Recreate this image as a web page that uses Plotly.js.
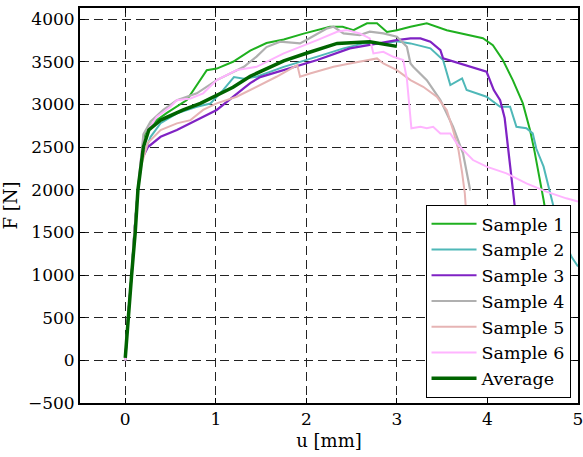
<!DOCTYPE html>
<html>
<head>
<meta charset="utf-8">
<script src="https://cdn.plot.ly/plotly-3.0.1.min.js"></script>
<style>
html,body{margin:0;padding:0;background:#fff;}
#chart{width:583px;height:457px;}
</style>
</head>
<body>
<div id="chart"></div>
<script>
var seriesNames = ["Sample 1","Sample 2","Sample 3","Sample 4","Sample 5","Sample 6","Average"];

var s1_u = [0,0.03,0.07,0.1,0.14,0.18,0.22,0.3,0.46,0.68,0.9,1.01,1.19,1.38,1.56,1.75,1.97,2.26,2.4,2.52,2.67,2.78,2.89,3.0,3.15,3.33,3.55,3.81,3.95,4.06,4.17,4.28,4.39,4.47,4.52,4.62,4.68,4.75];
var s1_F = [0,500,1000,1500,2000,2400,2650,2780,2900,3050,3400,3420,3500,3630,3720,3760,3830,3910,3910,3870,3950,3950,3850,3870,3910,3950,3870,3810,3775,3695,3520,3285,3015,2700,2450,1880,1500,1000];

var s2_u = [0,0.03,0.07,0.1,0.14,0.18,0.28,0.39,0.57,0.79,0.94,1.08,1.2,1.31,1.45,1.75,2.12,2.41,2.63,2.85,3.0,3.15,3.37,3.51,3.59,3.72,3.77,3.99,4.14,4.25,4.32,4.43,4.5,4.54,4.62,4.73,4.85,4.93,5.0];
var s2_F = [0,500,1000,1500,2000,2350,2620,2780,2895,2972,3010,3168,3320,3300,3325,3440,3560,3657,3715,3715,3740,3715,3657,3520,3226,3305,3168,3090,2972,2972,2738,2720,2660,2480,2270,1800,1400,1210,1100];

var s3_u = [0,0.03,0.07,0.1,0.14,0.18,0.25,0.39,0.57,0.79,1.01,1.31,1.38,1.49,1.75,2.12,2.48,2.78,3.0,3.15,3.26,3.37,3.48,3.51,3.70,3.88,3.99,4.07,4.14,4.19,4.23,4.27,4.30];
var s3_F = [0,500,1000,1500,2000,2350,2500,2620,2700,2815,2935,3190,3250,3320,3402,3520,3657,3715,3754,3774,3774,3735,3637,3539,3480,3422,3383,3168,3050,2840,2490,2150,1820];

var s4_u = [0,0.03,0.07,0.1,0.14,0.2,0.28,0.42,0.57,0.79,1.01,1.31,1.45,1.56,1.71,1.93,2.0,2.23,2.3,2.41,2.59,2.70,2.85,3.0,3.11,3.15,3.18,3.33,3.48,3.62,3.73,3.81];
var s4_F = [0,500,1000,1500,2000,2650,2800,2935,3050,3130,3285,3441,3560,3672,3735,3715,3754,3891,3910,3832,3813,3852,3832,3793,3676,3480,3441,3285,3050,2738,2426,1990];

var s5_u = [0,0.03,0.07,0.1,0.14,0.18,0.25,0.39,0.57,0.72,0.86,1.01,1.23,1.49,1.67,1.90,1.93,2.04,2.30,2.48,2.78,2.85,3.0,3.15,3.29,3.44,3.55,3.62,3.68,3.72,3.75,3.78,3.8];
var s5_F = [0,500,1000,1500,2000,2300,2550,2700,2778,2816,2935,3012,3090,3227,3324,3461,3324,3363,3441,3480,3539,3480,3402,3285,3207,3090,2934,2700,2465,2200,1957,1500,1200];

var s6_u = [0,0.03,0.07,0.1,0.14,0.18,0.25,0.35,0.5,0.57,0.72,0.86,1.01,1.23,1.45,1.75,2.12,2.34,2.45,2.59,2.70,2.74,2.85,2.96,3.07,3.11,3.16,3.26,3.33,3.40,3.48,3.59,3.66,3.84,3.99,4.21,4.43,4.65,4.87,5.0];
var s6_F = [0,500,1000,1500,2000,2450,2700,2855,2972,3050,3070,3130,3285,3402,3441,3598,3754,3852,3871,3832,3774,3598,3617,3558,3520,3300,2720,2738,2720,2738,2660,2660,2543,2348,2270,2192,2075,1977,1899,1860];

var avg_u = [0,0.03,0.07,0.11,0.14,0.2,0.26,0.39,0.64,0.83,1.01,1.19,1.38,1.56,1.75,2.0,2.34,2.7,3.0];
var avg_F = [30,500,1000,1500,2000,2500,2700,2816,2935,3012,3110,3200,3330,3420,3510,3600,3715,3734,3680];

var colors = ["#1fb01f","#4fb8b8","#7f22c4","#b0b0b0","#e6b4b4","#ffb4ff","#006400"];
var widths = [2,2,2.2,2.2,2,2,3.5];
var xs = [s1_u,s2_u,s3_u,s4_u,s5_u,s6_u,avg_u];
var ys = [s1_F,s2_F,s3_F,s4_F,s5_F,s6_F,avg_F];

var traces = seriesNames.map(function(n,i){
  return {x: xs[i], y: ys[i], name: n, type: 'scatter', mode: 'lines',
          line: {color: colors[i], width: widths[i]}};
});

var fam = 'DejaVu Serif';
var axisCommon = {
  showline: true, linecolor: '#000', linewidth: 2, mirror: 'allticks',
  ticks: 'inside', ticklen: 5, tickcolor: '#000', tickwidth: 1,
  showgrid: true, gridcolor: '#222', gridwidth: 1, griddash: '9px,5px',
  zeroline: false, tickfont: {family: fam, size: 17, color: '#000'}
};

var layout = {
  width: 583, height: 457,
  margin: {l: 80, r: 5, t: 8, b: 54},
  paper_bgcolor: '#fff', plot_bgcolor: '#fff',
  font: {family: fam, size: 17, color: '#000'},
  xaxis: Object.assign({}, axisCommon, {
    range: [-0.5, 5], dtick: 1, tick0: 0, ticklabeloverflow: 'allow',
    title: {text: 'u [mm]', font: {family: fam, size: 18, color: '#000'}, standoff: 6}
  }),
  yaxis: Object.assign({}, axisCommon, {
    range: [-500, 4130], dtick: 500, tick0: 0,
    title: {text: 'F [N]', font: {family: fam, size: 18, color: '#000'}, standoff: 8}
  }),
  showlegend: true,
  legend: {x: 0.985, xanchor: 'right', y: 0.013, yanchor: 'bottom',
           bgcolor: '#fff', bordercolor: '#000', borderwidth: 1, itemwidth: 45,
           font: {family: fam, size: 17.5, color: '#000'}, tracegroupgap: 0}
};

Plotly.newPlot('chart', traces, layout, {displayModeBar: false});
</script>
</body>
</html>
